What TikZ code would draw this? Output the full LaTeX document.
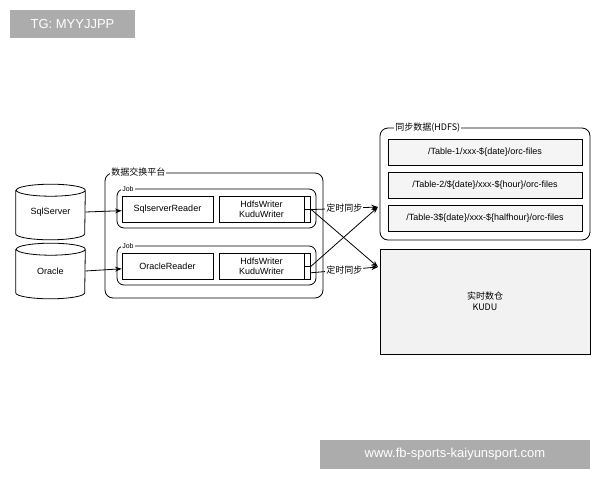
\documentclass[tikz,border=0pt]{standalone}
\usepackage{fontspec}
\setmainfont{Liberation Sans}
\newfontfamily\cjk{Noto Sans CJK SC}
\usetikzlibrary{positioning, arrows.meta, shapes.geometric}

\begin{document}
\begin{tikzpicture}[x=1pt, y=-1pt,
    font=\fontsize{9}{10}\selectfont, semithick,
    db/.style={minimum width=69pt, minimum height=55pt, inner sep=0pt},
    group/.style={draw, rounded corners=8pt, thick},
    job/.style={draw, rounded corners=7pt, thick},
    box/.style={draw, minimum height=26pt, inner sep=1pt, align=center},
    file/.style={draw, fill=gray!8, minimum width=194pt, minimum height=26pt},
    port/.style={draw, minimum width=6pt, minimum height=13pt, inner sep=0pt},
    arrow/.style={->, thick, >=Stealth},
    tag/.style={fill=white, inner sep=1pt},
    stamp/.style={fill=gray!65, text=white, font=\fontsize{13}{14}\selectfont, inner sep=0pt},
]
\useasboundingbox (0,0) rectangle (600,480);

% Watermarks
\node[stamp, minimum width=125pt, minimum height=28pt] (tg) at (72.5,24) {TG: MYYJJPP};
\node[stamp, minimum width=270pt, minimum height=29pt] (site) at (455,454.5) {www.fb-sports-kaiyunsport.com};

% Sources
\node[db] (sqlserver) at (50.5,212) {SqlServer};
\node[db] (oracle) at (50.5,271) {Oracle};
\foreach \n in {sqlserver, oracle} {
  \draw[thick] ([yshift=-6pt]\n.north west) -- ([yshift=6pt]\n.south west)
    arc[start angle=180, end angle=360, x radius=34.5pt, y radius=6pt]
    -- ([yshift=-6pt]\n.north east)
    arc[start angle=0, end angle=360, x radius=34.5pt, y radius=6pt];
}

% Platform
\draw[group] (105,173) rectangle (323,298);
\node[tag, anchor=west, font=\cjk\fontsize{9}{10}\selectfont] (platform) at (110,172) {数据交换平台};
\draw[job] (117,189) rectangle (316,228);
\node[tag, anchor=west, font=\fontsize{7}{8}\selectfont] (job1) at (121,189) {Job};
\draw[job] (117,246) rectangle (316,285);
\node[tag, anchor=west, font=\fontsize{7}{8}\selectfont] (job2) at (121,246) {Job};

\node[box, minimum width=91pt] (sqlreader) at (167.5,209) {SqlserverReader};
\node[box, minimum width=85pt] (writer1) at (261.5,209) {HdfsWriter\\KuduWriter};
\node[port, anchor=north west] (p1a) at (304,196) {};
\node[port, anchor=north west] (p1b) at (304,209) {};
\node[box, minimum width=91pt] (orareader) at (167.5,266) {OracleReader};
\node[box, minimum width=85pt] (writer2) at (261.5,266) {HdfsWriter\\KuduWriter};
\node[port, anchor=north west] (p2a) at (304,253) {};
\node[port, anchor=north west] (p2b) at (304,266) {};

% Targets
\draw[group] (380,128) rectangle (590,240);
\node[tag, anchor=west, font=\cjk\fontsize{9}{10}\selectfont] (hdfs) at (394,128) {同步数据(HDFS)};
\node[file] (t1) at (485,152.5) {/Table-1/xxx-\$\{date\}/orc-files};
\node[file] (t2) at (485,185) {/Table-2/\$\{date\}/xxx-\$\{hour\}/orc-files};
\node[file] (t3) at (485,218.5) {/Table-3\$\{date\}/xxx-\$\{halfhour\}/orc-files};
\node[draw, fill=gray!10, minimum width=210pt, minimum height=105pt, align=center, font=\cjk\fontsize{9}{11}\selectfont] (kudu) at (485,301.5) {实时数仓\\KUDU};
\coordinate (inhdfs) at (378,207);
\coordinate (inkudu) at (378,267);

% Arrows
\draw[arrow] (sqlserver.east) -- (sqlreader);
\draw[arrow] (oracle.east) -- (orareader);
\draw[arrow] (p1b.north east) -- (inkudu);
\draw[arrow] (p2a.south east) -- (inhdfs);
\draw[arrow] (p1a.south east) -- node[tag, font=\cjk\fontsize{9}{10}\selectfont] {定时同步} (inhdfs);
\draw[arrow] (p2b.east) -- node[tag, font=\cjk\fontsize{9}{10}\selectfont] {定时同步} (inkudu);
\end{tikzpicture}
\end{document}
